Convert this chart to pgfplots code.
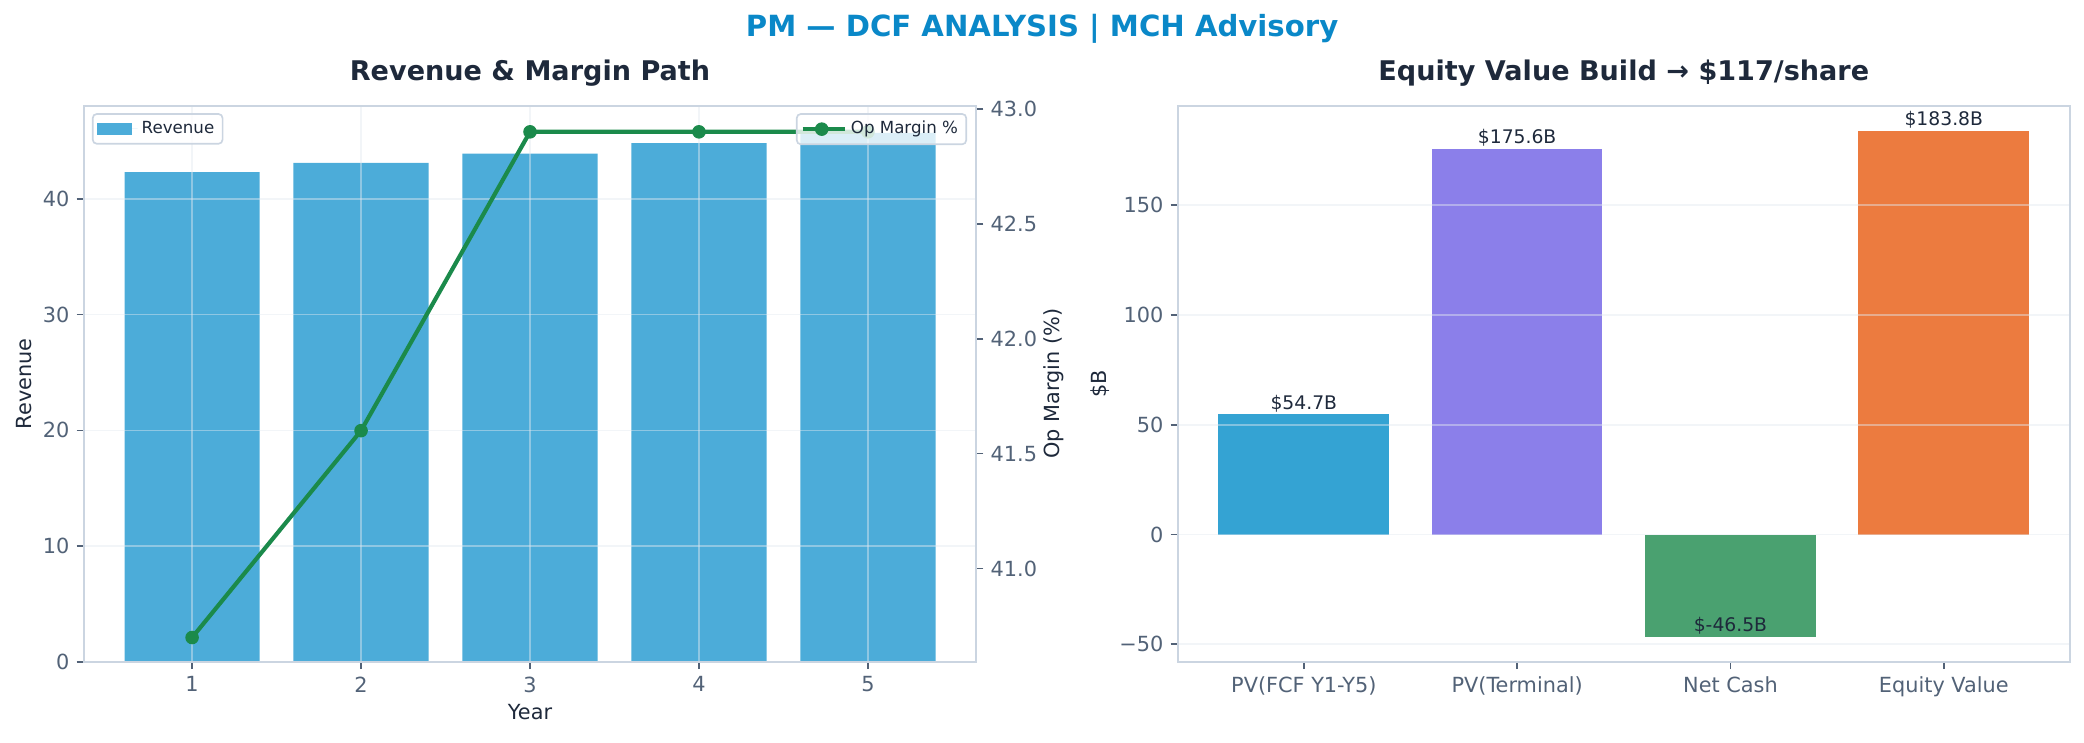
\documentclass[border=0pt]{standalone}
\usepackage{fontspec}
\setmainfont{DejaVu Sans}
\usepackage{pgfplots}
\pgfplotsset{compat=1.18}

\definecolor{titleblue}{HTML}{0A88C8}
\definecolor{darkc}{HTML}{1E293B}
\definecolor{tickc}{HTML}{526277}
\definecolor{spinec}{HTML}{CBD5E1}
\definecolor{gridc}{HTML}{E2E8F0}
\definecolor{revblue}{HTML}{4CACD9}
\definecolor{margreen}{HTML}{1B8A4B}
\definecolor{pvfcf}{HTML}{34A3D3}
\definecolor{pvterm}{HTML}{8B7FEA}
\definecolor{netcash}{HTML}{4AA170}
\definecolor{equity}{HTML}{EC7B3F}

\pgfplotsset{
  mch/.style={
    scale only axis,
    axis line style={draw=spinec, line width=0.9pt},
    tick style={draw=tickc, line width=0.8pt},
    major tick length=3.5pt,
    tick align=outside,
    ticklabel style={font=\fontsize{10}{12}\selectfont, text=tickc},
    label style={font=\fontsize{10}{12}\selectfont, text=darkc},
    title style={font=\fontsize{13}{15}\selectfont\bfseries, text=darkc,
      at={(0.5,1)}, anchor=base, yshift=5.9pt},
    grid style={draw=gridc, line width=0.8pt, opacity=0.45},
    /pgf/number format/assume math mode=true,
    legend style={font=\fontsize{8}{9.6}\selectfont, text=darkc,
      draw=spinec, line width=0.8pt, rounded corners=2pt,
      fill=white, fill opacity=0.8, draw opacity=1, text opacity=1,
      inner xsep=2pt, inner ysep=1.5pt},
  },
}

\begin{document}
\begin{tikzpicture}
\path (0pt,0pt) rectangle (1000.3pt,356.2pt);
\node[font=\fontsize{14}{16}\selectfont\bfseries, text=titleblue, anchor=base]
  at (500.2pt,338.9pt) {PM — DCF ANALYSIS | MCH Advisory};

% left: revenue bars
\begin{axis}[mch, name=rev, at={(40.3pt,38.5pt)}, anchor=south west,
  width=428.2pt, height=267pt,
  axis on top,
  xmin=0.36, xmax=5.64, ymin=0, ymax=48.05,
  xtick={1,2,3,4,5}, ytick={0,10,20,30,40},
  xtick pos=bottom, ytick pos=left,
  xmajorgrids, ymajorgrids,
  ybar, bar width=0.8, bar shift=0pt,
  title={Revenue \& Margin Path},
  xlabel={Year}, ylabel={Revenue},
  xlabel style={at={(axis description cs:0.5,-0.104)}, anchor=base},
  ylabel style={at={(axis description cs:-0.0673,0.5)}, anchor=center},
  legend style={at={(0,1)}, anchor=north west, xshift=3.8pt, yshift=-3.6pt},
  legend image code/.code={\fill[#1, opacity=1, sharp corners]
    (0pt,-2.9pt) rectangle (16.8pt,2.9pt); \path (0pt,0pt) -- (19.5pt,0pt);},
]
\addplot[fill=revblue, draw=none] coordinates {(1,42.3) (2,43.1) (3,43.9) (4,44.8) (5,45.7)};
\legend{Revenue}
\end{axis}

% left: op margin on twin axis
\begin{axis}[mch, at={(rev.south west)}, anchor=south west,
  width=428.2pt, height=267pt,
  xmin=0.36, xmax=5.64, ymin=40.594, ymax=43.014,
  axis x line=none, axis y line*=right,
  ytick={41,41.5,42,42.5,43}, yticklabels={41.0,41.5,42.0,42.5,43.0},
  ylabel={Op Margin (\%)},
  ylabel style={at={(axis description cs:1.0874,0.5)}, anchor=center},
  legend style={at={(1,1)}, anchor=north east, xshift=-4.3pt, yshift=-3.6pt},
  legend image code/.code={\draw[mark repeat=2, mark phase=2, #1, opacity=1]
    plot coordinates {(0pt,0pt) (9pt,0pt) (18pt,0pt)};
    \path (0pt,0pt) -- (20pt,0pt);},
]
\addplot[color=margreen, line width=2pt, mark=*, mark size=3pt,
  mark options={fill=margreen, draw=margreen, line width=0.5pt}]
  coordinates {(1,40.7) (2,41.6) (3,42.9) (4,42.9) (5,42.9)};
\legend{Op Margin \%}
\end{axis}

% right: equity value build
\begin{axis}[mch, name=eq, at={(565.4pt,38.5pt)}, anchor=south west,
  width=428pt, height=267pt,
  axis on top,
  xmin=-0.59, xmax=3.59, ymin=-58.0, ymax=195.3,
  xtick={0,1,2,3},
  xticklabels={PV(FCF Y1-Y5), PV(Terminal), Net Cash, Equity Value},
  ytick={-50,0,50,100,150}, yticklabels={−50,0,50,100,150},
  xtick pos=bottom, ytick pos=left,
  ymajorgrids,
  ybar, bar width=0.8, bar shift=0pt,
  title={Equity Value Build → \$117/share},
  ylabel={\$B},
  ylabel style={at={(axis description cs:-0.0875,0.5)}, anchor=center},
  nodes near coords, point meta=explicit symbolic,
  every node near coord/.append style={font=\fontsize{9}{11}\selectfont,
    text=darkc, anchor=south, inner sep=1pt},
]
\addplot[fill=pvfcf, draw=none] coordinates {(0,54.7) [\$54.7B]};
\addplot[fill=pvterm, draw=none] coordinates {(1,175.6) [\$175.6B]};
\addplot[fill=netcash, draw=none] coordinates {(2,-46.5) [\$-46.5B]};
\addplot[fill=equity, draw=none] coordinates {(3,183.8) [\$183.8B]};
\end{axis}
\end{tikzpicture}
\end{document}
